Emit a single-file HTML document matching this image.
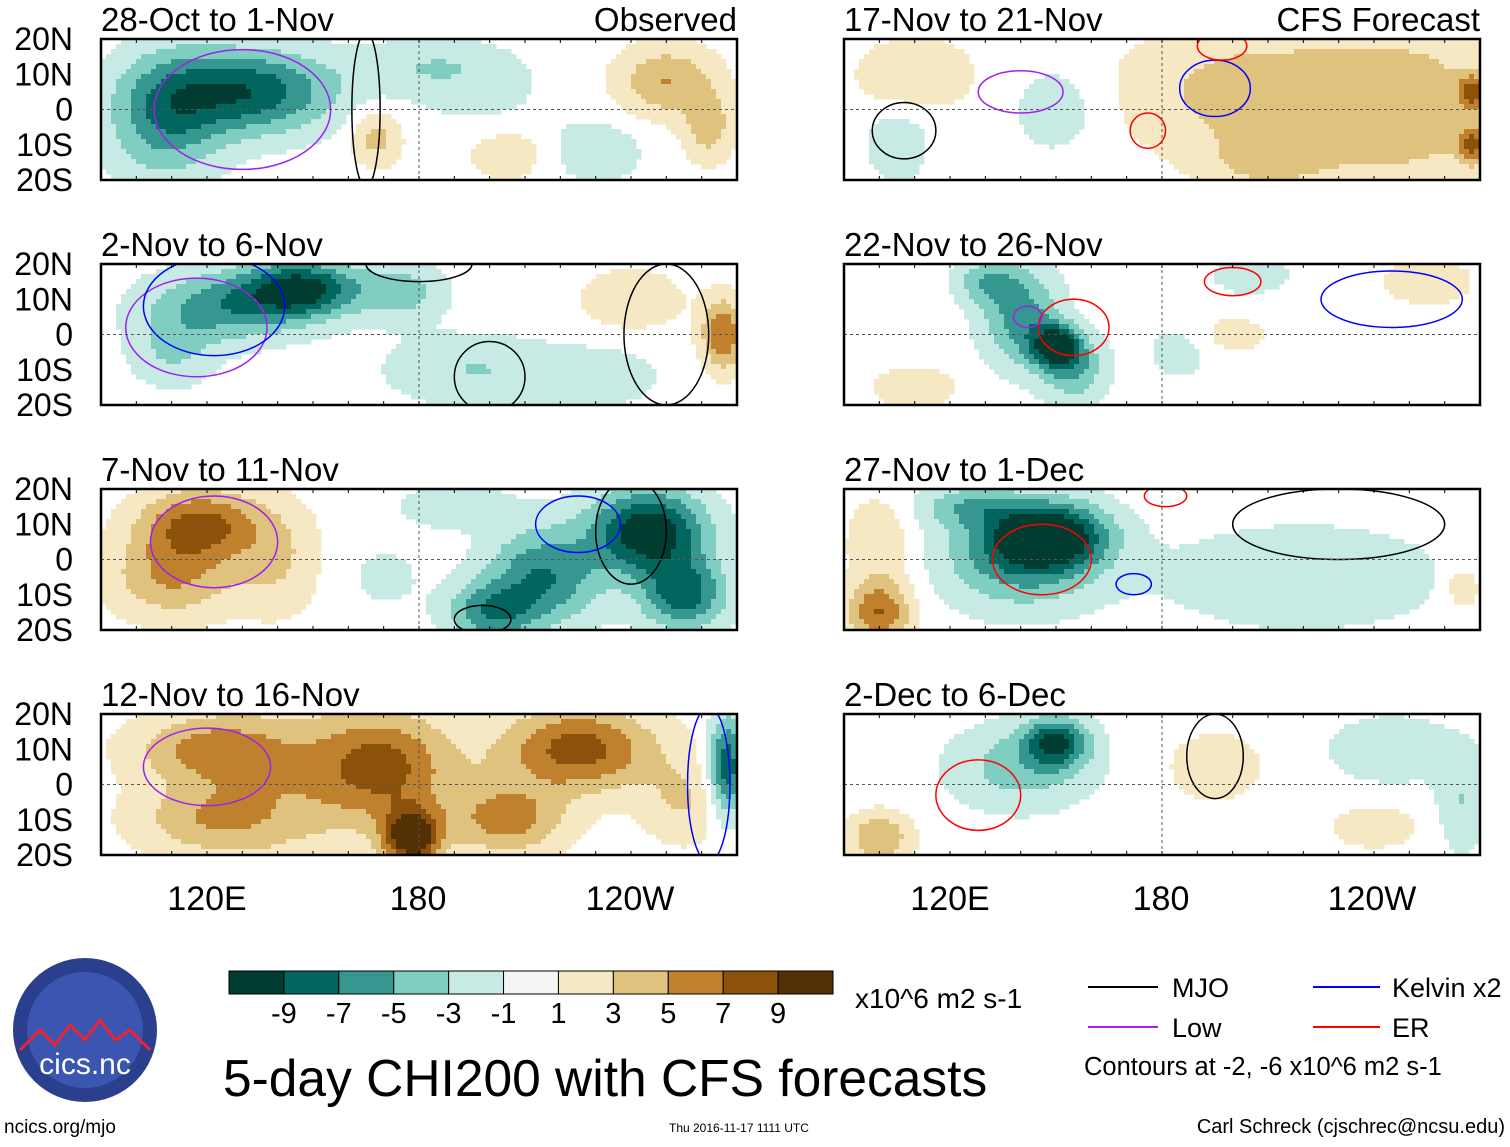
<!DOCTYPE html>
<html><head><meta charset="utf-8"><style>
body{margin:0;background:#fff;}
svg text{font-family:"Liberation Sans",sans-serif;fill:#000;}
</style></head><body>
<svg id="s" width="1510" height="1142" viewBox="0 0 1510 1142" xmlns="http://www.w3.org/2000/svg">
<rect width="1510" height="1142" fill="#fff"/>
<g id="panels"></g>
<g id="footer">
<text x="207" y="910" font-size="34" text-anchor="middle">120E</text>
<text x="418" y="910" font-size="34" text-anchor="middle">180</text>
<text x="630" y="910" font-size="34" text-anchor="middle">120W</text>
<text x="950" y="910" font-size="34" text-anchor="middle">120E</text>
<text x="1161" y="910" font-size="34" text-anchor="middle">180</text>
<text x="1372" y="910" font-size="34" text-anchor="middle">120W</text>
<g id="cbar"></g>
<text x="855" y="1008" font-size="28">x10^6 m2 s-1</text>
<line x1="1088" y1="987" x2="1158" y2="987" stroke="#000" stroke-width="2"/>
<text x="1172" y="997" font-size="27">MJO</text>
<line x1="1313" y1="987" x2="1380" y2="987" stroke="#0000ff" stroke-width="2"/>
<text x="1392" y="997" font-size="27">Kelvin x2</text>
<line x1="1088" y1="1027" x2="1158" y2="1027" stroke="#a020f0" stroke-width="2"/>
<text x="1172" y="1037" font-size="27">Low</text>
<line x1="1313" y1="1027" x2="1380" y2="1027" stroke="#ff0000" stroke-width="2"/>
<text x="1392" y="1037" font-size="27">ER</text>
<text x="1084" y="1075" font-size="25.5">Contours at -2, -6 x10^6 m2 s-1</text>
<text x="223" y="1096" font-size="51.5">5-day CHI200 with CFS forecasts</text>
<text x="4" y="1133" font-size="19">ncics.org/mjo</text>
<text x="669" y="1132" font-size="12">Thu 2016-11-17 1111 UTC</text>
<text x="1505" y="1133" font-size="20" text-anchor="end">Carl Schreck (cjschrec@ncsu.edu)</text>
<g>
<circle cx="85" cy="1030" r="72" fill="#2b3f8f"/>
<circle cx="85" cy="1030" r="58" fill="#3b56b0"/>
<path d="M20 1050 L40 1030 L55 1045 L70 1025 L85 1040 L100 1020 L115 1040 L130 1030 L150 1050" stroke="#e23" stroke-width="3" fill="none"/>
<text x="85" y="1074" font-size="30" text-anchor="middle" style="fill:#fff">cics.nc</text>
</g>
</g>
</svg>
<script>
const levels=[-9,-7,-5,-3,-1,1,3,5,7,9];
const colors=["#003c30","#01665e","#35978f","#80cdc1","#c7eae5","#f5f5f5","#f6e8c3","#dfc27d","#bf812d","#8c510a","#543005"];
const titles=["28-Oct to 1-Nov","2-Nov to 6-Nov","7-Nov to 11-Nov","12-Nov to 16-Nov","17-Nov to 21-Nov","22-Nov to 26-Nov","27-Nov to 1-Dec","2-Dec to 6-Dec"];
const latTicks=["20N","10N","0","10S","20S"];
// anomaly blobs per panel: [lon, lat, value, lonRadius, latRadius]
const blobs0=[[132,5,-8.5,24,12],[108,-2,-6,16,18],[185,12,-3,22,8],[168,-8,4,7,8],[250,8,5,14,10],[262,-5,4,7,10],[230,-12,-3,12,8],[205,-12,2.5,12,8],[200,0,-1.2,20,10]];
const blobs1=[[147,13,-9.5,16,8],[125,8,-6,22,10],[175,12,-4,12,8],[195,-10,-3,24,10],[110,-5,-3,12,10],[266,0,7,6,10],[240,10,3,14,8],[230,-12,-2.5,18,8]];
const blobs2=[[118,10,7.5,17,10],[110,-5,5,18,12],[140,0,3,12,16],[245,8,-11,16,12],[215,-5,-7,16,14],[255,-10,-8,12,10],[200,-15,-6,12,8],[190,15,-2.5,16,6],[170,-5,-1.5,12,10]];
const blobs3=[[178,-15,11,8,8],[170,5,7.5,20,16],[225,10,8,22,12],[120,10,5,22,10],[120,-10,4,22,10],[255,-5,3,12,12],[267,5,-9,5,14],[140,0,3,24,24],[205,-10,6,16,10]];
const blobs4=[[205,5,4,35,18],[250,0,4,28,24],[268,-10,6,4,5],[268,5,6,4,5],[110,10,3,16,10],[150,0,-2.5,12,12],[105,-10,-3,8,10],[210,-15,3,18,8]];
const blobs5=[[140,5,-6,11,14],[150,-3,-9,7,6],[155,-10,-5,9,9],[130,15,-4,9,6],[205,17,-3,10,5],[255,15,3,12,6],[200,0,2.5,9,5],[110,-15,2.5,12,6],[185,-5,-1.5,12,10]];
const blobs6=[[148,7,-10.5,16,9],[140,0,-6,22,14],[125,15,-4,14,6],[220,-5,-3,38,14],[100,-15,7,9,9],[100,5,3,9,12],[265,-8,3,5,6]];
const blobs7=[[150,12,-8,9,7],[140,5,-4,20,12],[195,5,3,12,9],[245,10,-3,17,9],[265,-5,-3,7,14],[100,-15,5,9,7],[240,-12,2.5,12,6]];
const blobSets=[blobs0,blobs1,blobs2,blobs3,blobs4,blobs5,blobs6,blobs7];
// contours per panel: [type, lon, lat, lonRadius, latRadius]
const cont0=[["low",130,0,25,17],["mjo",165,0,4,22]];
const cont1=[["low",117,2,20,14],["kelvin",122,8,20,14],["mjo",200,-12,10,10],["mjo",180,20,15,5],["mjo",250,0,12,20]];
const cont2=[["low",122,5,18,13],["mjo",240,8,10,15],["mjo",198,-17,8,4],["kelvin",225,10,12,8]];
const cont3=[["low",120,5,18,11],["kelvin",262,0,6,22]];
const cont4=[["mjo",107,-6,9,8],["low",140,5,12,6],["kelvin",195,6,10,8],["er",197,18,7,4],["er",176,-6,5,5]];
const cont5=[["er",155,2,10,8],["er",200,15,8,4],["low",142,5,4,3],["kelvin",245,10,20,8]];
const cont6=[["er",146,0,14,10],["er",181,18,6,3],["kelvin",172,-7,5,3],["mjo",230,10,30,10]];
const cont7=[["er",128,-3,12,10],["mjo",195,8,8,12]];
const contSets=[cont0,cont1,cont2,cont3,cont4,cont5,cont6,cont7];
const contColor={mjo:"#000",low:"#a020f0",kelvin:"#0000ff",er:"#ff0000"};

const NS="http://www.w3.org/2000/svg";
function mk(t,a,p){const e=document.createElementNS(NS,t);for(const k in a)e.setAttribute(k,a[k]);p.appendChild(e);return e;}
const panelsG=document.getElementById("panels");
const colX=[101,844], rowY=[39,264,489,714], PW=636, PH=141;
function fieldVal(bl,lon,lat){let v=0;for(const b of bl){const dx=(lon-b[0])/b[3],dy=(lat-b[1])/b[4];v+=b[2]*Math.exp(-(dx*dx+dy*dy));}return v;}
function bin(v){let i=0;while(i<levels.length&&v>levels[i])i++;return i;}
for(let p=0;p<8;p++){
  const x0=colX[p<4?0:1], y0=rowY[p%4];
  const xs=lon=>x0+(lon-90)/180*PW, ys=lat=>y0+(20-lat)/40*PH;
  const g=mk("g",{},panelsG);
  
  
  const cid="clip"+p;
  const cp=mk("clipPath",{id:cid},g);mk("rect",{x:x0,y:y0,width:PW,height:PH},cp);
  const cells=mk("g",{"clip-path":"url(#"+cid+")"},g);
  const step=5;
  for(let py=0;py<PH;py+=step){for(let px=0;px<PW;px+=step){
    const lon=90+(px+step/2)/PW*180, lat=20-(py+step/2)/PH*40;
    const c=colors[bin(fieldVal(blobSets[p],lon,lat))];
    if(c==="#f5f5f5")continue;
    const r=mk("rect",{x:x0+px,y:y0+py,width:step+0.5,height:step+0.5,fill:c},cells);
    
    
  }}
  for(const c of contSets[p]){
    const e=mk("ellipse",{cx:xs(c[1]),cy:ys(c[2]),rx:c[3]/180*PW,ry:c[4]/40*PH,fill:"none",stroke:contColor[c[0]],"stroke-width":1.5},cells);
    
    
  }
  mk("line",{x1:x0,x2:x0+PW,y1:ys(0),y2:ys(0),stroke:"#555","stroke-dasharray":"3,3"},g);
  mk("line",{x1:xs(180),x2:xs(180),y1:y0,y2:y0+PH,stroke:"#555","stroke-dasharray":"3,3"},g);
  mk("rect",{x:x0,y:y0,width:PW,height:PH,fill:"none",stroke:"#000","stroke-width":2.5},g);
  for(let lon=90;lon<=270;lon+=10){
    mk("line",{x1:xs(lon),x2:xs(lon),y1:y0,y2:y0+4,stroke:"#000"},g);
    mk("line",{x1:xs(lon),x2:xs(lon),y1:y0+PH,y2:y0+PH-4,stroke:"#000"},g);
  }
  const t=mk("text",{x:x0,y:y0-8,"font-size":33},g);t.textContent=titles[p];
  
  
  if(p===0||p===4){const s=mk("text",{x:x0+PW,y:y0-8,"font-size":33,"text-anchor":"end"},g);s.textContent=p===0?"Observed":"CFS Forecast";
    
    }
  if(p<4){latTicks.forEach((l,i)=>{const tt=mk("text",{x:73,y:y0+i*PH/4+11,"font-size":32,"text-anchor":"end"},g);tt.textContent=l;
    
    });}
}
const cb=document.getElementById("cbar");
const cbx=229,cbw=604/11;
colors.forEach((c,i)=>{const r=mk("rect",{x:cbx+i*cbw,y:971,width:cbw,height:23,fill:c,stroke:"#000"},cb);
  
  });
levels.forEach((l,i)=>{const t=mk("text",{x:cbx+(i+1)*cbw,y:1023,"font-size":29,"text-anchor":"middle"},cb);t.textContent=l;
  
  });
</script>
</body></html>
